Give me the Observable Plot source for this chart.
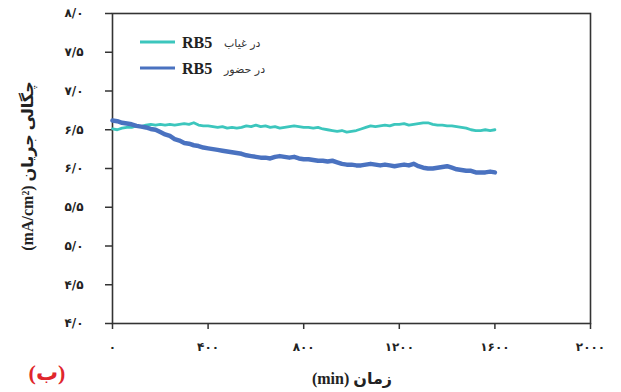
<!DOCTYPE html>
<html>
<head>
<meta charset="utf-8">
<script src="https://cdn.jsdelivr.net/npm/d3@7"></script>
<script src="https://cdn.jsdelivr.net/npm/@observablehq/plot@0.6"></script>
<style>
  body { margin: 0; background: #fff; }
  #chart { width: 621px; height: 392px; }
</style>
</head>
<body>
<div id="chart"></div>
<script>
// Time axis (min), sampled every 20 min
const times = d3.range(0, 1601, 20);

// Current density (mA/cm²) without RB5
const withoutRB5 = [
  6.51, 6.50, 6.52, 6.53, 6.53, 6.55, 6.54, 6.56, 6.57, 6.56,
  6.57, 6.56, 6.57, 6.56, 6.57, 6.58, 6.57, 6.59, 6.56, 6.55,
  6.55, 6.54, 6.53, 6.54, 6.52, 6.53, 6.52, 6.53, 6.55, 6.54,
  6.56, 6.54, 6.55, 6.53, 6.54, 6.52, 6.53, 6.54, 6.55, 6.54,
  6.53, 6.53, 6.52, 6.53, 6.51, 6.50, 6.49, 6.48, 6.49, 6.47,
  6.48, 6.49, 6.51, 6.53, 6.55, 6.54, 6.55, 6.56, 6.55, 6.57,
  6.57, 6.58, 6.56, 6.57, 6.58, 6.59, 6.59, 6.57, 6.56, 6.56,
  6.55, 6.55, 6.54, 6.53, 6.52, 6.50, 6.49, 6.49, 6.50, 6.49,
  6.50
];

// Current density (mA/cm²) with RB5
const withRB5 = [
  6.62, 6.61, 6.59, 6.58, 6.57, 6.55, 6.54, 6.53, 6.51, 6.50,
  6.47, 6.44, 6.42, 6.38, 6.36, 6.33, 6.32, 6.30, 6.29, 6.27,
  6.26, 6.25, 6.24, 6.23, 6.22, 6.21, 6.20, 6.19, 6.17, 6.16,
  6.15, 6.14, 6.14, 6.13, 6.15, 6.16, 6.15, 6.14, 6.15, 6.13,
  6.12, 6.12, 6.11, 6.10, 6.10, 6.09, 6.10, 6.08, 6.06, 6.05,
  6.05, 6.04, 6.04, 6.05, 6.06, 6.05, 6.04, 6.05, 6.04, 6.03,
  6.04, 6.05, 6.04, 6.06, 6.03, 6.01, 6.00, 6.00, 6.01, 6.02,
  6.03, 6.01, 5.99, 5.98, 5.97, 5.97, 5.95, 5.95, 5.95, 5.96,
  5.95
];

// Axis ticks and their Persian labels
const xTicks = [0, 400, 800, 1200, 1600, 2000];
const xTickLabels = ["۰", "۴۰۰", "۸۰۰", "۱۲۰۰", "۱۶۰۰", "۲۰۰۰"];
const yTicks = [4, 4.5, 5, 5.5, 6, 6.5, 7, 7.5, 8];
const yTickLabels = ["۴/۰", "۴/۵", "۵/۰", "۵/۵", "۶/۰", "۶/۵", "۷/۰", "۷/۵", "۸/۰"];

const seriesNames = ["در غیاب", "در حضور"];
const seriesColors = ["#3cc6bd", "#4a72c0"];

const rowsWithout = times.map((t, i) => ({t, v: withoutRB5[i]}));
const rowsWith = times.map((t, i) => ({t, v: withRB5[i]}));

const fontStack = "'Liberation Serif', 'DejaVu Sans', serif";

const plot = Plot.plot({
  width: 621,
  height: 392,
  marginLeft: 112,
  marginRight: 31,
  marginTop: 13,
  marginBottom: 69,
  style: {fontFamily: fontStack, fontSize: "12px", fontWeight: "bold", color: "#222", background: "#fff", overflow: "visible"},
  x: {domain: [0, 2000]},
  y: {domain: [4, 8]},
  marks: [
    Plot.axisX(xTicks, {
      tickFormat: d => xTickLabels[xTicks.indexOf(d)],
      tickSize: 6, tickPadding: 13, stroke: "#333", strokeWidth: 1.5,
      fontFamily: "'DejaVu Sans', sans-serif", fontWeight: "bold", fontSize: 12, letterSpacing: "2px",
      label: null
    }),
    Plot.axisY(yTicks, {
      tickFormat: d => yTickLabels[yTicks.indexOf(d)],
      tickSize: 7, tickPadding: 22, stroke: "#333", strokeWidth: 1.5,
      fontFamily: "'DejaVu Sans', sans-serif", fontWeight: "bold", fontSize: 12, letterSpacing: "2px",
      label: null
    }),
    Plot.frame({stroke: "#333", strokeWidth: 1.6}),
    Plot.line(rowsWithout, {x: "t", y: "v", stroke: seriesColors[0], strokeWidth: 2.8}),
    Plot.line(rowsWith, {x: "t", y: "v", stroke: seriesColors[1], strokeWidth: 4.5})
  ]
});

document.getElementById("chart").appendChild(plot);

// Annotations: axis titles, panel letter and legend
const svg = d3.select(plot);
const g = svg.append("g").attr("font-family", fontStack).attr("text-anchor", "start");

g.append("text")
  .attr("transform", "translate(33,166) rotate(-90)")
  .attr("text-anchor", "middle")
  .attr("font-size", 16)
  .attr("font-weight", "bold")
  .attr("fill", "#222")
  .text("(mA/cm²) چگالی جریان");

g.append("text")
  .attr("x", 352).attr("y", 384)
  .attr("text-anchor", "middle")
  .attr("font-size", 16)
  .attr("font-weight", "bold")
  .attr("fill", "#222")
  .text("(min) زمان");

g.append("text")
  .attr("x", 47).attr("y", 380)
  .attr("text-anchor", "middle")
  .attr("font-size", 22)
  .attr("font-weight", "bold")
  .attr("fill", "#e0262c")
  .text("(ب)");

seriesNames.forEach((name, i) => {
  const y = 42 + i * 26;
  g.append("line")
    .attr("x1", 140).attr("x2", 175).attr("y1", y).attr("y2", y)
    .attr("stroke", seriesColors[i]).attr("stroke-width", 3);
  g.append("text")
    .attr("x", 182).attr("y", y + 5.5)
    .attr("text-anchor", "start")
    .attr("font-size", 16).attr("font-weight", "bold").attr("fill", "#222")
    .text("RB5");
  g.append("text")
    .attr("x", 224).attr("y", y + 5)
    .attr("text-anchor", "start")
    .attr("font-family", "'DejaVu Sans', sans-serif")
    .attr("font-size", 11).attr("font-weight", "normal").attr("fill", "#333")
    .text(name);
});
</script>
</body>
</html>
